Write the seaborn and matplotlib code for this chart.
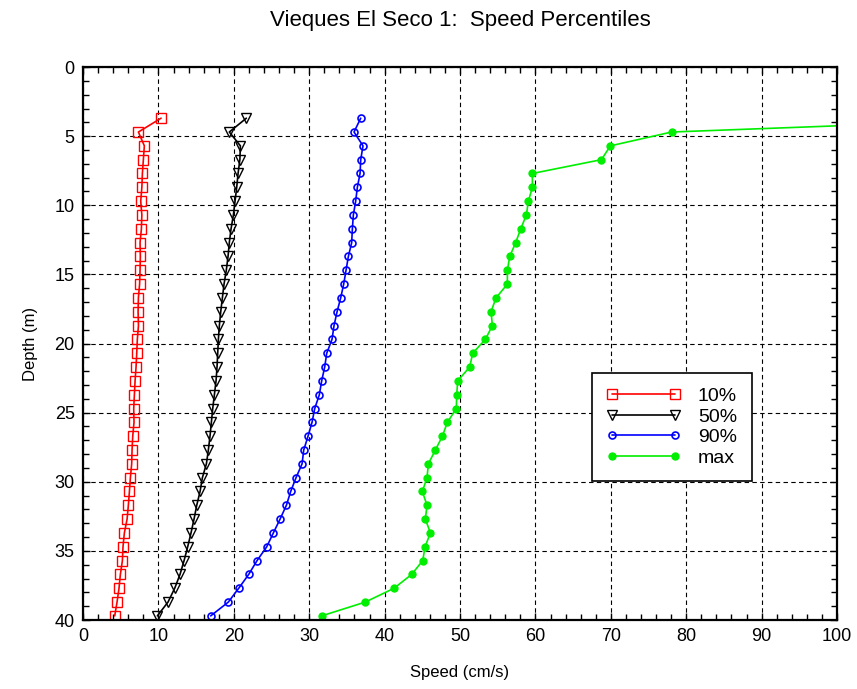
import numpy as np
import pandas as pd
import matplotlib
matplotlib.use("Agg")
import matplotlib.pyplot as plt
import seaborn as sns
from matplotlib.ticker import MultipleLocator

# --------------------------------------------------
# data (depth in m, speed in cm/s)
# --------------------------------------------------
depth = [3.7 + i for i in range(37)]

p10 = [10.35, 7.34, 8.13, 8.0, 7.87, 7.8, 7.65, 7.8, 7.74, 7.56,
       7.6, 7.56, 7.5, 7.34, 7.3, 7.35, 7.2, 7.12, 7.03, 6.9,
       6.81, 6.72, 6.76, 6.59, 6.5, 6.45, 6.28, 6.15, 6.01, 5.84,
       5.48, 5.3, 5.22, 4.95, 4.77, 4.51, 4.2]

p50 = [21.66, 19.4, 20.87, 20.8, 20.56, 20.38, 20.16, 19.94, 19.63, 19.4,
       19.23, 19.0, 18.7, 18.48, 18.26, 18.08, 17.95, 17.86, 17.77, 17.64,
       17.42, 17.2, 17.02, 16.84, 16.62, 16.36, 15.83, 15.52, 15.08, 14.72,
       14.32, 13.88, 13.4, 12.86, 12.16, 11.27, 9.86]

p90 = [36.83, 35.94, 37.13, 36.83, 36.74, 36.38, 36.16, 35.85, 35.72, 35.63,
       35.19, 34.88, 34.57, 34.17, 33.69, 33.29, 33.02, 32.32, 32.05, 31.65,
       31.34, 30.73, 30.37, 29.84, 29.27, 29.05, 28.25, 27.54, 26.97, 26.13,
       25.24, 24.36, 23.08, 21.97, 20.65, 19.27, 16.93]

pmax = [127.0, 78.07, 69.94, 68.75, 59.59, 59.6, 59.06, 58.8, 58.05, 57.38,
        56.59, 56.28, 56.28, 54.77, 54.11, 54.29, 53.36, 51.68, 51.28, 49.69,
        49.56, 49.51, 48.32, 47.66, 46.73, 45.8, 45.62, 45.0, 45.62, 45.4,
        46.07, 45.36, 45.05, 43.59, 41.25, 37.44, 31.65]

series = {"10%": p10, "50%": p50, "90%": p90, "max": pmax}

# --------------------------------------------------
# style
# --------------------------------------------------
sns.set_style("ticks")
plt.rcParams['font.family'] = ['Liberation Sans', 'DejaVu Sans']
plt.rcParams['xtick.direction'] = 'in'
plt.rcParams['ytick.direction'] = 'in'
plt.rcParams['text.color'] = 'black'
plt.rcParams['axes.labelcolor'] = 'black'
plt.rcParams['xtick.color'] = 'black'
plt.rcParams['ytick.color'] = 'black'

styles = {
    "10%": dict(color="#ff0000", marker="s", markersize=6.5, mfc="none", mec="#ff0000", mew=1.0),
    "50%": dict(color="#000000", marker="v", markersize=6.5, mfc="none", mec="#000000", mew=1.0),
    "90%": dict(color="#0000ff", marker="o", markersize=5, mfc="none", mec="#0000ff", mew=1.2),
    "max": dict(color="#00ee00", marker="o", markersize=5, mfc="#00ee00", mec="#00ee00", mew=1.0),
}

fig = plt.figure(figsize=(8.57, 6.89), dpi=100)
ax = fig.add_axes([0.0969, 0.1001, 0.8798, 0.8026])

for name, vals in series.items():
    df = pd.DataFrame({"speed": vals, "depth": depth})
    sns.lineplot(data=df, x="speed", y="depth", sort=False, estimator=None,
                 ax=ax, label=name, linewidth=1.2, **styles[name])

ax.set_xlim(0, 100)
ax.set_ylim(40, 0)
ax.xaxis.set_major_locator(MultipleLocator(10))
ax.xaxis.set_minor_locator(MultipleLocator(2))
ax.yaxis.set_major_locator(MultipleLocator(5))
ax.yaxis.set_minor_locator(MultipleLocator(1))
ax.tick_params(which="both", top=True, right=True, labelsize=13, width=1)
ax.tick_params(which="major", length=5, pad=6)
ax.tick_params(which="minor", length=4)
ax.grid(True, which="major", color="black", linestyle=(0, (4, 3)), linewidth=0.8)
for sp in ax.spines.values():
    sp.set_linewidth(1.6)
    sp.set_color("black")

ax.set_xlabel("Speed (cm/s)", fontsize=12, labelpad=14)
ax.set_ylabel("Depth (m)", fontsize=12, labelpad=12)
fig.suptitle("Vieques El Seco 1:  Speed Percentiles", fontsize=16, y=0.985, x=0.537)

leg = ax.legend(loc="upper left", bbox_to_anchor=(0.675, 0.447), fontsize=14,
                numpoints=2, handlelength=3.8, frameon=True, fancybox=False,
                edgecolor="black", framealpha=1, borderpad=0.75, labelspacing=0.15,
                handletextpad=0.9, borderaxespad=0)
leg.get_frame().set_linewidth(1.2)

fig.savefig("out.png", dpi=100)
print("saved out.png")
